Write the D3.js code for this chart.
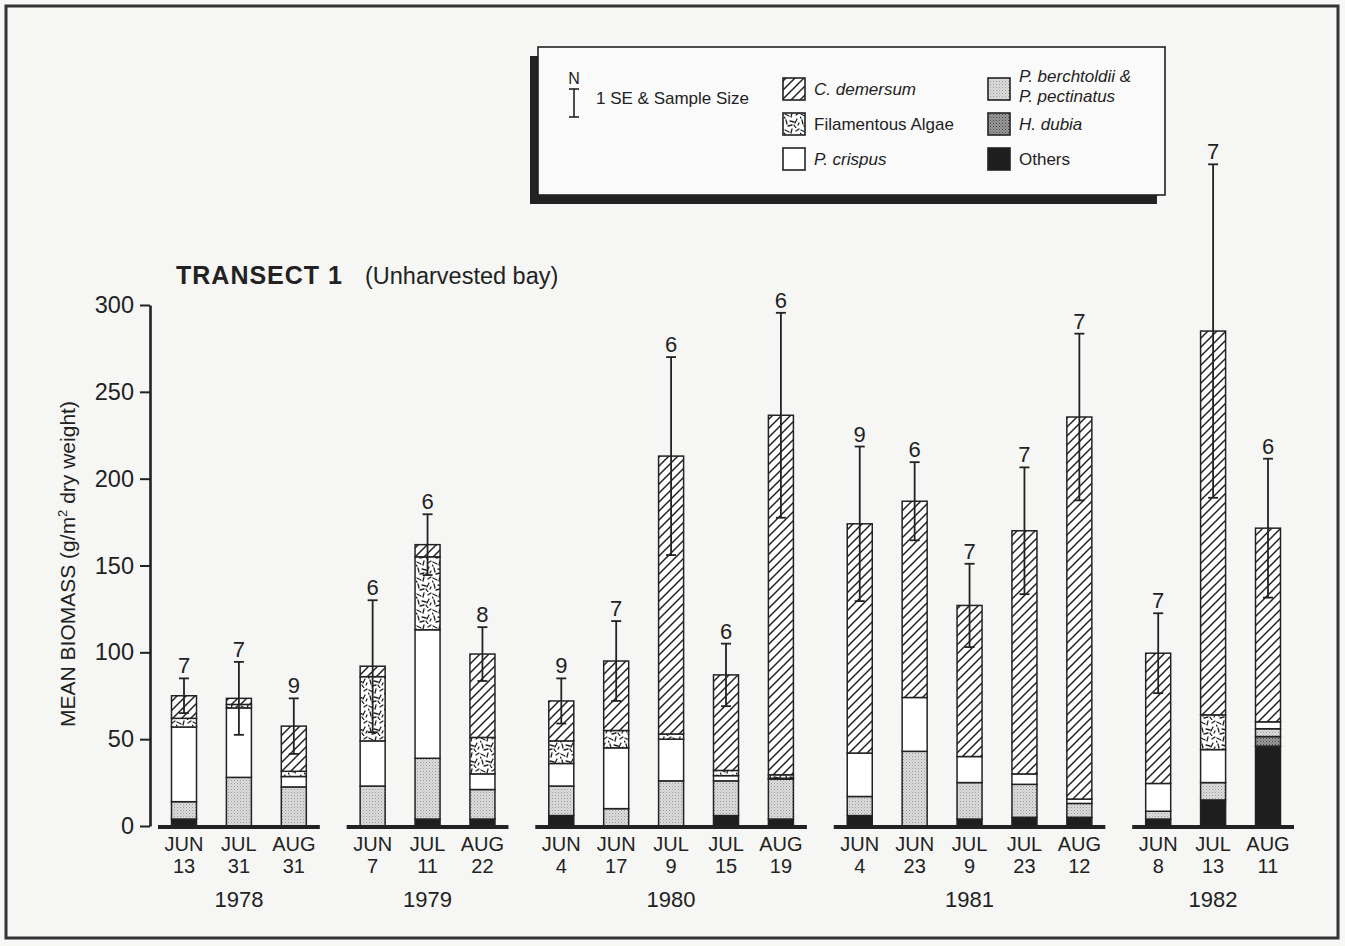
<!DOCTYPE html>
<html>
<head>
<meta charset="utf-8">
<script src="https://cdn.jsdelivr.net/npm/d3@7"></script>
<style>
  html, body { margin: 0; padding: 0; background: #f6f6f4; }
  svg { display: block; }
  text { font-family: "Liberation Sans", Arial, sans-serif; fill: #222; }
  .narrow { font-family: "Liberation Sans Narrow", "Liberation Sans", Arial, sans-serif; }
</style>
</head>
<body>
<svg id="chart" width="1345" height="946"></svg>
<script>
// Sampling dates (month, day, year) along Transect 1
const months = ["JUN","JUL","AUG","JUN","JUL","AUG","JUN","JUN","JUL","JUL","AUG","JUN","JUN","JUL","JUL","AUG","JUN","JUL","AUG"];
const days   = ["13","31","31","7","11","22","4","17","9","15","19","4","23","9","23","12","8","13","11"];
const years  = [1978,1978,1978,1979,1979,1979,1980,1980,1980,1980,1980,1981,1981,1981,1981,1981,1982,1982,1982];
const yearList = [1978, 1979, 1980, 1981, 1982];

// Mean biomass by taxon (g/m² dry weight), stacked bottom to top
const others   = [4, 0, 0,    0, 4, 4,    6, 0, 0, 6, 4,       6, 0, 4, 5, 5,        4, 15, 46];
const hDubia   = [0, 0, 0,    0, 0, 0,    0, 0, 0, 0, 0,       0, 0, 0, 0, 0,        0, 0, 5.5];
const pBerch   = [10, 28, 22.5, 23, 35, 17, 17, 10, 26, 20, 23, 11, 43, 21, 19, 8,   4.5, 10, 4.5];
const pCrispus = [43, 40, 6,  26, 74, 9,  13, 35, 24, 3, 0.5,  25, 31, 15, 6, 2.5,   16, 19, 4];
const algae    = [5, 2, 3,    37, 42, 21, 13, 10, 3, 3, 2,     0, 0, 0, 0, 0,        0, 20, 0];
const cDem     = [13, 3.5, 26, 6, 7, 48,  23, 40, 160, 55, 207, 132, 113, 87, 140, 220, 75, 221, 111.5];

// Standard error of the total and sample size
const se      = [10, 21, 16,  38, 17.5, 15.5, 13, 23, 57, 18, 59, 44.5, 22.5, 24, 36.5, 48, 23, 96, 40];
const sampleN = [7, 7, 9,     6, 6, 8,    9, 7, 6, 6, 6,       9, 6, 7, 7, 7,        7, 7, 6];

const yTicks = [0, 50, 100, 150, 200, 250, 300];

const series = [
  { key: "others",   values: others,   fill: "#1e1e1e" },
  { key: "hDubia",   values: hDubia,   fill: "url(#dark-stipple)" },
  { key: "pBerch",   values: pBerch,   fill: "url(#light-stipple)" },
  { key: "pCrispus", values: pCrispus, fill: "#ffffff" },
  { key: "algae",    values: algae,    fill: "url(#algae)" },
  { key: "cDem",     values: cDem,     fill: "url(#hatch)" }
];

const legendItems = [
  { lines: ["C. demersum"], italic: true, fill: "url(#hatch)", col: 0, row: 0 },
  { lines: ["Filamentous  Algae"], italic: false, fill: "url(#algae)", col: 0, row: 1 },
  { lines: ["P. crispus"], italic: true, fill: "#ffffff", col: 0, row: 2 },
  { lines: ["P. berchtoldii &", "P. pectinatus"], italic: true, fill: "url(#light-stipple)", col: 1, row: 0 },
  { lines: ["H. dubia"], italic: true, fill: "url(#dark-stipple)", col: 1, row: 1 },
  { lines: ["Others"], italic: false, fill: "#1e1e1e", col: 1, row: 2 }
];

const svg = d3.select("#chart");
const ink = "#222";

// ---------- fill patterns ----------
const defs = svg.append("defs");

const hatch = defs.append("pattern").attr("id", "hatch")
  .attr("patternUnits", "userSpaceOnUse").attr("width", 9).attr("height", 9);
hatch.append("rect").attr("width", 9).attr("height", 9).attr("fill", "#fff");
hatch.append("path").attr("d", "M-1,10 L10,-1 M-3,3 L3,-3 M6,12 L12,6")
  .attr("stroke", ink).attr("stroke-width", 1.5);

const alg = defs.append("pattern").attr("id", "algae")
  .attr("patternUnits", "userSpaceOnUse").attr("width", 16).attr("height", 16);
alg.append("rect").attr("width", 16).attr("height", 16).attr("fill", "#fff");
alg.append("path")
  .attr("d", "M1,2 l4,2 M8,1 l-1,4 M12,3 l3,-2 M2,8 l1,4 M6,9 l4,1 M13,7 l-2,4 M4,14 l4,-1 M10,13 l2,3 M14,13 l1,-2 M0,5 l1,1")
  .attr("stroke", ink).attr("stroke-width", 1.3).attr("stroke-linecap", "round").attr("fill", "none");

const light = defs.append("pattern").attr("id", "light-stipple")
  .attr("patternUnits", "userSpaceOnUse").attr("width", 3).attr("height", 3);
light.append("rect").attr("width", 3).attr("height", 3).attr("fill", "#dcdcdc");
light.append("rect").attr("width", 1).attr("height", 1).attr("fill", "#9a9a9a");
light.append("rect").attr("x", 1.5).attr("y", 1.5).attr("width", 1).attr("height", 1).attr("fill", "#b4b4b4");

const dark = defs.append("pattern").attr("id", "dark-stipple")
  .attr("patternUnits", "userSpaceOnUse").attr("width", 3).attr("height", 3);
dark.append("rect").attr("width", 3).attr("height", 3).attr("fill", "#9a9a9a");
dark.append("rect").attr("width", 1).attr("height", 1).attr("fill", "#444");
dark.append("rect").attr("x", 1.5).attr("y", 1.5).attr("width", 1).attr("height", 1).attr("fill", "#5a5a5a");

// ---------- page frame ----------
svg.append("rect").attr("x", 6).attr("y", 6).attr("width", 1332).attr("height", 932)
  .attr("fill", "none").attr("stroke", "#333").attr("stroke-width", 3);

// ---------- scales ----------
const groupOf = years.map(yv => yearList.indexOf(yv));
const gapSlots = 0.436;
const slot = years.map((_, i) => i + groupOf[i] * gapSlots);
const x = d3.scaleLinear()
  .domain([0, months.length - 1 + (yearList.length - 1) * gapSlots])
  .range([184, 1268]);
const y = d3.scaleLinear().domain([0, 300]).range([826, 305]);
const barW = 25;

// ---------- y axis ----------
const axisX = 150;
const yAxis = svg.append("g").attr("transform", `translate(${axisX},0)`)
  .call(d3.axisLeft(y).tickValues(yTicks).tickSize(10).tickSizeOuter(0).tickPadding(6));
yAxis.select(".domain").attr("stroke", ink).attr("stroke-width", 2.6);
yAxis.selectAll(".tick line").attr("stroke", ink).attr("stroke-width", 2);
yAxis.selectAll(".tick text")
  .style("font-family", "'Liberation Sans', Arial, sans-serif")
  .style("font-size", "23.5px").attr("fill", ink);

svg.append("text")
  .attr("transform", "translate(75,564) rotate(-90)")
  .attr("text-anchor", "middle").style("font-size", "21px")
  .call(t => {
    t.append("tspan").text("MEAN BIOMASS (g/m");
    t.append("tspan").attr("dy", -8).style("font-size", "13px").text("2");
    t.append("tspan").attr("dy", 8).text(" dry weight)");
  });

// ---------- title ----------
svg.append("text").attr("x", 176).attr("y", 284)
  .style("font-size", "25px").style("font-weight", "bold").style("letter-spacing", "1px")
  .attr("fill", "#333")
  .text("TRANSECT 1");
svg.append("text").attr("x", 365).attr("y", 284)
  .style("font-size", "23.5px").attr("fill", "#333")
  .text("(Unharvested bay)");

// ---------- stacked bars ----------
const stackData = months.map((m, i) => {
  const row = { i };
  series.forEach(s => row[s.key] = s.values[i]);
  return row;
});
const stacked = d3.stack().keys(series.map(s => s.key))(stackData);

const barsG = svg.append("g");
stacked.forEach((layer, li) => {
  barsG.append("g").selectAll("rect")
    .data(layer.filter(d => d[1] - d[0] > 0))
    .join("rect")
    .attr("x", d => x(slot[d.data.i]) - barW / 2)
    .attr("y", d => y(d[1]))
    .attr("width", barW)
    .attr("height", d => y(d[0]) - y(d[1]))
    .attr("fill", series[li].fill)
    .attr("stroke", ink).attr("stroke-width", 1.5);
});

// ---------- baselines per year ----------
yearList.forEach((yr, g) => {
  const idx = d3.range(years.length).filter(i => years[i] === yr);
  const x0 = x(slot[idx[0]]) - 26, x1 = x(slot[idx[idx.length - 1]]) + 26;
  svg.append("line").attr("x1", x0).attr("x2", x1)
    .attr("y1", y(0) + 1).attr("y2", y(0) + 1)
    .attr("stroke", ink).attr("stroke-width", 4);
  svg.append("text").attr("class", "narrow")
    .attr("x", (x0 + x1) / 2).attr("y", 907)
    .attr("text-anchor", "middle").style("font-size", "22px")
    .text(yr);
});

// ---------- error bars and sample sizes ----------
const totals = stackData.map((_, i) => series.reduce((a, s) => a + s.values[i], 0));
const errG = svg.append("g").attr("stroke", ink).attr("stroke-width", 1.8);
totals.forEach((tot, i) => {
  const cx = x(slot[i]);
  const hi = y(tot + se[i]), lo = y(tot - se[i]);
  errG.append("line").attr("x1", cx).attr("x2", cx).attr("y1", hi).attr("y2", lo);
  errG.append("line").attr("x1", cx - 5).attr("x2", cx + 5).attr("y1", hi).attr("y2", hi);
  errG.append("line").attr("x1", cx - 5).attr("x2", cx + 5).attr("y1", lo).attr("y2", lo);
  svg.append("text").attr("x", cx).attr("y", hi - 5)
    .attr("text-anchor", "middle").style("font-size", "22px")
    .text(sampleN[i]);
});

// ---------- date labels ----------
months.forEach((m, i) => {
  const cx = x(slot[i]);
  svg.append("text").attr("class", "narrow").attr("x", cx).attr("y", 851)
    .attr("text-anchor", "middle").style("font-size", "20px").text(m);
  svg.append("text").attr("class", "narrow").attr("x", cx).attr("y", 873)
    .attr("text-anchor", "middle").style("font-size", "20px").text(days[i]);
});

// ---------- legend ----------
const lg = svg.append("g");
lg.append("rect").attr("x", 530).attr("y", 56).attr("width", 627).attr("height", 148).attr("fill", "#222");
lg.append("rect").attr("x", 538).attr("y", 47).attr("width", 627).attr("height", 148)
  .attr("fill", "#fafafa").attr("stroke", ink).attr("stroke-width", 1.6);

// error-bar key
lg.append("text").attr("x", 574).attr("y", 84).attr("text-anchor", "middle").style("font-size", "16px").text("N");
const ek = lg.append("g").attr("stroke", ink).attr("stroke-width", 1.6);
ek.append("line").attr("x1", 574).attr("x2", 574).attr("y1", 89).attr("y2", 117);
ek.append("line").attr("x1", 569).attr("x2", 579).attr("y1", 89).attr("y2", 89);
ek.append("line").attr("x1", 569).attr("x2", 579).attr("y1", 117).attr("y2", 117);
lg.append("text").attr("x", 596).attr("y", 104).style("font-size", "17px").text("1 SE & Sample Size");

const colX = [783, 988], rowY = [78, 113, 148];
legendItems.forEach(it => {
  const sx = colX[it.col], sy = rowY[it.row];
  lg.append("rect").attr("x", sx).attr("y", sy).attr("width", 22).attr("height", 22)
    .attr("fill", it.fill).attr("stroke", ink).attr("stroke-width", 1.6);
  const t = lg.append("text").attr("x", sx + 31).style("font-size", "17px")
    .style("font-style", it.italic ? "italic" : "normal");
  if (it.lines.length === 1) {
    t.attr("y", sy + 17).text(it.lines[0]);
  } else {
    t.attr("y", sy + 4);
    it.lines.forEach((ln, k) => t.append("tspan").attr("x", sx + 31).attr("dy", k === 0 ? 0 : 20).text(ln));
  }
});
</script>
</body>
</html>
